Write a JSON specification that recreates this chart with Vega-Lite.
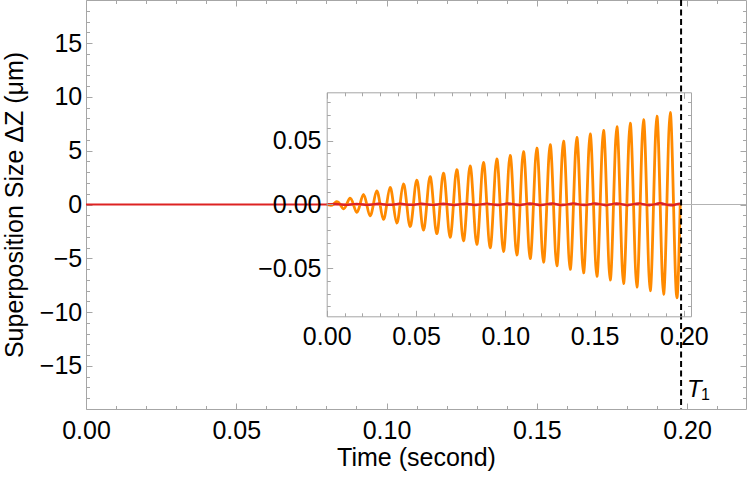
{
  "$schema": "https://vega.github.io/schema/vega-lite/v6.json",
  "width": 660,
  "height": 409,
  "autosize": {"type": "none"},
  "padding": {"left": 86, "top": 0, "right": 1, "bottom": 70},
  "background": "white",
  "config": {
    "view": {"stroke": null},
    "axis": {
      "domainColor": "#a6a6a6", "tickColor": "#a6a6a6", "domainWidth": 1, "tickWidth": 1,
      "labelFont": "Liberation Sans", "labelFontSize": 25, "labelColor": "black",
      "titleFont": "Liberation Sans", "titleFontSize": 25, "titleFontWeight": "normal", "titleColor": "black",
      "grid": false, "labelFlush": false, "labelOverlap": false, "labelBound": false
    }
  },
  "datasets": {
    "marker": [{"t": 0.198, "name": "T", "sub": "1"}],
    "red": [
      {"t": 0, "v": 0}, {"t": 0.00467, "v": 0.00041}, {"t": 0.0077, "v": 0}, {"t": 0.01074, "v": -0.00043}, {"t": 0.01377, "v": 0},
      {"t": 0.0168, "v": 0.00044}, {"t": 0.01983, "v": 0}, {"t": 0.02287, "v": -0.00046}, {"t": 0.0259, "v": 0},
      {"t": 0.02893, "v": 0.00047}, {"t": 0.03196, "v": 0}, {"t": 0.035, "v": -0.00049}, {"t": 0.03803, "v": 0},
      {"t": 0.04106, "v": 0.0005}, {"t": 0.04409, "v": 0}, {"t": 0.04713, "v": -0.00052}, {"t": 0.05016, "v": 0},
      {"t": 0.05319, "v": 0.00053}, {"t": 0.05622, "v": 0}, {"t": 0.05926, "v": -0.00055}, {"t": 0.06229, "v": 0},
      {"t": 0.06532, "v": 0.00056}, {"t": 0.06835, "v": 0}, {"t": 0.07139, "v": -0.00058}, {"t": 0.07442, "v": 0},
      {"t": 0.07745, "v": 0.00059}, {"t": 0.08048, "v": 0}, {"t": 0.08352, "v": -0.00061}, {"t": 0.08655, "v": 0},
      {"t": 0.08958, "v": 0.00062}, {"t": 0.09261, "v": 0}, {"t": 0.09565, "v": -0.00064}, {"t": 0.09868, "v": 0},
      {"t": 0.10171, "v": 0.00065}, {"t": 0.10474, "v": 0}, {"t": 0.10778, "v": -0.00067}, {"t": 0.11081, "v": 0},
      {"t": 0.11384, "v": 0.00068}, {"t": 0.11687, "v": 0}, {"t": 0.11991, "v": -0.0007}, {"t": 0.12294, "v": 0},
      {"t": 0.12597, "v": 0.00071}, {"t": 0.129, "v": 0}, {"t": 0.13204, "v": -0.00073}, {"t": 0.13507, "v": 0},
      {"t": 0.1381, "v": 0.00075}, {"t": 0.14113, "v": 0}, {"t": 0.14417, "v": -0.00076}, {"t": 0.1472, "v": 0},
      {"t": 0.15023, "v": 0.00078}, {"t": 0.15326, "v": 0}, {"t": 0.1563, "v": -0.00079}, {"t": 0.15933, "v": 0},
      {"t": 0.16236, "v": 0.00081}, {"t": 0.16539, "v": 0}, {"t": 0.16843, "v": -0.00082}, {"t": 0.17146, "v": 0},
      {"t": 0.17449, "v": 0.00084}, {"t": 0.17752, "v": 0}, {"t": 0.18056, "v": -0.00085}, {"t": 0.18359, "v": 0},
      {"t": 0.18662, "v": 0.00087}, {"t": 0.18965, "v": 0}, {"t": 0.19269, "v": -0.00088}, {"t": 0.19572, "v": 0},
      {"t": 0.198, "v": 0.0006}
    ],
    "orange": [
      {"t": 0, "v": 0}, {"t": 0.00187, "v": -0.0007}, {"t": 0.00374, "v": 0}, {"t": 0.0056, "v": 0.0021},
      {"t": 0.00747, "v": 0}, {"t": 0.00934, "v": -0.00349}, {"t": 0.01121, "v": 0}, {"t": 0.01307, "v": 0.00489},
      {"t": 0.01494, "v": 0}, {"t": 0.01681, "v": -0.00629}, {"t": 0.01868, "v": 0}, {"t": 0.02054, "v": 0.00768},
      {"t": 0.02241, "v": 0}, {"t": 0.02428, "v": -0.00908}, {"t": 0.02615, "v": 0}, {"t": 0.02801, "v": 0.01048},
      {"t": 0.02988, "v": 0}, {"t": 0.03175, "v": -0.01187}, {"t": 0.03362, "v": 0}, {"t": 0.03548, "v": 0.01327},
      {"t": 0.03735, "v": 0}, {"t": 0.03922, "v": -0.01467}, {"t": 0.04109, "v": 0}, {"t": 0.04295, "v": 0.01606},
      {"t": 0.04482, "v": 0}, {"t": 0.04669, "v": -0.01746}, {"t": 0.04856, "v": 0}, {"t": 0.05042, "v": 0.01886},
      {"t": 0.05229, "v": 0}, {"t": 0.05416, "v": -0.02026}, {"t": 0.05603, "v": 0}, {"t": 0.05789, "v": 0.02165},
      {"t": 0.05976, "v": 0}, {"t": 0.06163, "v": -0.02305}, {"t": 0.0635, "v": 0}, {"t": 0.06536, "v": 0.02445},
      {"t": 0.06723, "v": 0}, {"t": 0.0691, "v": -0.02584}, {"t": 0.07097, "v": 0}, {"t": 0.07283, "v": 0.02724},
      {"t": 0.0747, "v": 0}, {"t": 0.07657, "v": -0.02864}, {"t": 0.07844, "v": 0}, {"t": 0.0803, "v": 0.03003},
      {"t": 0.08217, "v": 0}, {"t": 0.08404, "v": -0.03143}, {"t": 0.08591, "v": 0}, {"t": 0.08777, "v": 0.03283},
      {"t": 0.08964, "v": 0}, {"t": 0.09151, "v": -0.03422}, {"t": 0.09338, "v": 0}, {"t": 0.09524, "v": 0.03562},
      {"t": 0.09711, "v": 0}, {"t": 0.09898, "v": -0.03702}, {"t": 0.10085, "v": 0}, {"t": 0.10271, "v": 0.03841},
      {"t": 0.10458, "v": 0}, {"t": 0.10645, "v": -0.03981}, {"t": 0.10832, "v": 0}, {"t": 0.11018, "v": 0.04121},
      {"t": 0.11205, "v": 0}, {"t": 0.11392, "v": -0.04261}, {"t": 0.11579, "v": 0}, {"t": 0.11765, "v": 0.044},
      {"t": 0.11952, "v": 0}, {"t": 0.12139, "v": -0.0454}, {"t": 0.12326, "v": 0}, {"t": 0.12512, "v": 0.0468},
      {"t": 0.12699, "v": 0}, {"t": 0.12886, "v": -0.04819}, {"t": 0.13073, "v": 0}, {"t": 0.13259, "v": 0.04959},
      {"t": 0.13446, "v": 0}, {"t": 0.13633, "v": -0.05099}, {"t": 0.1382, "v": 0}, {"t": 0.14006, "v": 0.05238},
      {"t": 0.14193, "v": 0}, {"t": 0.1438, "v": -0.05378}, {"t": 0.14567, "v": 0}, {"t": 0.14753, "v": 0.05518},
      {"t": 0.1494, "v": 0}, {"t": 0.15127, "v": -0.05657}, {"t": 0.15314, "v": 0}, {"t": 0.155, "v": 0.05797},
      {"t": 0.15687, "v": 0}, {"t": 0.15874, "v": -0.05937}, {"t": 0.16061, "v": 0}, {"t": 0.16247, "v": 0.06077},
      {"t": 0.16434, "v": 0}, {"t": 0.16621, "v": -0.06216}, {"t": 0.16808, "v": 0}, {"t": 0.16994, "v": 0.06356},
      {"t": 0.17181, "v": 0}, {"t": 0.17368, "v": -0.06496}, {"t": 0.17555, "v": 0}, {"t": 0.17741, "v": 0.06635},
      {"t": 0.17928, "v": 0}, {"t": 0.18115, "v": -0.06775}, {"t": 0.18302, "v": 0}, {"t": 0.18488, "v": 0.06915},
      {"t": 0.18675, "v": 0}, {"t": 0.18862, "v": -0.07054}, {"t": 0.19049, "v": 0}, {"t": 0.19235, "v": 0.07194},
      {"t": 0.19422, "v": 0}, {"t": 0.19609, "v": -0.07334}, {"t": 0.19796, "v": 0}
    ]
  },
  "layer": [
    {
      "layer": [
        {
          "data": {"name": "marker"},
          "mark": {"type": "rule", "color": "#b3b3b3", "strokeWidth": 1},
          "encoding": {"y": {"datum": 0, "type": "quantitative", "scale": {"domain": [-19, 19], "nice": false, "zero": false}, "axis": null}}
        },
        {
          "data": {"name": "red"},
          "mark": {"type": "line", "color": "#dd2222", "strokeWidth": 2.2, "interpolate": "natural"},
          "encoding": {
            "x": {"field": "t", "type": "quantitative", "scale": {"domain": [0, 0.2196], "nice": false, "zero": false}, "axis": null},
            "y": {"field": "v", "type": "quantitative", "scale": {"domain": [-19, 19], "nice": false, "zero": false}, "axis": null}
          }
        },
        {
          "data": {"name": "marker"},
          "mark": {"type": "point", "opacity": 0},
          "encoding": {
            "x": {"field": "t", "type": "quantitative", "scale": {"domain": [0, 0.2196], "nice": false, "zero": false},
                  "axis": {"orient": "bottom", "values": [0, 0.05, 0.1, 0.15, 0.2], "format": ".2f", "tickSize": -6, "labelPadding": 15.5,
                           "title": "Time (second)", "titleY": 56, "titleBaseline": "alphabetic"}},
            "y": {"datum": 0, "type": "quantitative", "scale": {"domain": [-19, 19], "nice": false, "zero": false},
                  "axis": {"orient": "left", "values": [-15, -10, -5, 0, 5, 10, 15], "format": "d", "tickSize": -6, "labelPadding": 10.3,
                           "title": "Superposition Size ΔZ (μm)", "titleX": -63.5, "titleY": 204.5, "titleAngle": -90, "titleBaseline": "alphabetic", "titleAlign": "center"}}
          }
        },
        {
          "data": {"name": "marker"},
          "mark": {"type": "point", "opacity": 0},
          "encoding": {
            "x": {"field": "t", "type": "quantitative", "scale": {"domain": [0, 0.2196], "nice": false, "zero": false},
                  "axis": {"orient": "bottom", "values": [0.01, 0.02, 0.03, 0.04, 0.06, 0.07, 0.08, 0.09, 0.11, 0.12, 0.13, 0.14, 0.16, 0.17, 0.18, 0.19, 0.21],
                           "tickSize": -3.5, "labels": false, "domain": false, "title": null}},
            "y": {"datum": 0, "type": "quantitative", "scale": {"domain": [-19, 19], "nice": false, "zero": false},
                  "axis": {"orient": "left", "values": [-18, -17, -16, -14, -13, -12, -11, -9, -8, -7, -6, -4, -3, -2, -1, 1, 2, 3, 4, 6, 7, 8, 9, 11, 12, 13, 14, 16, 17, 18],
                           "tickSize": -3.5, "labels": false, "domain": false, "title": null}}
          }
        },
        {
          "data": {"name": "marker"},
          "mark": {"type": "point", "opacity": 0},
          "encoding": {
            "x": {"field": "t", "type": "quantitative", "scale": {"domain": [0, 0.2196], "nice": false, "zero": false},
                  "axis": {"orient": "top", "values": [0, 0.05, 0.1, 0.15, 0.2], "tickSize": -6, "labels": false, "title": null}},
            "y": {"datum": 0, "type": "quantitative", "scale": {"domain": [-19, 19], "nice": false, "zero": false},
                  "axis": {"orient": "right", "values": [-15, -10, -5, 0, 5, 10, 15], "tickSize": -6, "labels": false, "title": null}}
          }
        },
        {
          "data": {"name": "marker"},
          "mark": {"type": "point", "opacity": 0},
          "encoding": {
            "x": {"field": "t", "type": "quantitative", "scale": {"domain": [0, 0.2196], "nice": false, "zero": false},
                  "axis": {"orient": "top", "values": [0.01, 0.02, 0.03, 0.04, 0.06, 0.07, 0.08, 0.09, 0.11, 0.12, 0.13, 0.14, 0.16, 0.17, 0.18, 0.19, 0.21],
                           "tickSize": -3.5, "labels": false, "domain": false, "title": null}},
            "y": {"datum": 0, "type": "quantitative", "scale": {"domain": [-19, 19], "nice": false, "zero": false},
                  "axis": {"orient": "right", "values": [-18, -17, -16, -14, -13, -12, -11, -9, -8, -7, -6, -4, -3, -2, -1, 1, 2, 3, 4, 6, 7, 8, 9, 11, 12, 13, 14, 16, 17, 18],
                           "tickSize": -3.5, "labels": false, "domain": false, "title": null}}
          }
        }
      ],
      "resolve": {"axis": {"x": "independent", "y": "independent"}}
    },
    {
      "layer": [
        {
          "data": {"name": "orange"},
          "mark": {"type": "line", "color": "#ff8a00", "strokeWidth": 2.8, "interpolate": "natural"},
          "encoding": {
            "x": {"field": "t", "type": "quantitative", "scale": {"domain": [0, 0.204], "range": [240.7, 605], "nice": false, "zero": false}, "axis": null},
            "y": {"field": "v", "type": "quantitative", "scale": {"domain": [-0.0878, 0.0878], "range": [316.3, 92.3], "nice": false, "zero": false}, "axis": null}
          }
        },
        {
          "data": {"name": "red"},
          "mark": {"type": "line", "color": "#dd2222", "strokeWidth": 2.2, "interpolate": "natural"},
          "encoding": {
            "x": {"field": "t", "type": "quantitative", "scale": {"domain": [0, 0.204], "range": [240.7, 605], "nice": false, "zero": false}, "axis": null},
            "y": {"field": "v", "type": "quantitative", "scale": {"domain": [-0.0878, 0.0878], "range": [316.3, 92.3], "nice": false, "zero": false}, "axis": null}
          }
        },
        {
          "data": {"name": "marker"},
          "mark": {"type": "point", "opacity": 0},
          "encoding": {
            "x": {"field": "t", "type": "quantitative", "scale": {"domain": [0, 0.204], "range": [240.7, 605], "nice": false, "zero": false},
                  "axis": {"orient": "bottom", "offset": -92.7, "values": [0, 0.05, 0.1, 0.15, 0.2], "format": ".2f", "tickSize": -6, "labelPadding": 14.4, "title": null, "zindex": 1}},
            "y": {"datum": 0, "type": "quantitative", "scale": {"domain": [-0.0878, 0.0878], "range": [316.3, 92.3], "nice": false, "zero": false},
                  "axis": {"orient": "left", "offset": -240.7, "values": [-0.05, 0, 0.05], "format": ".2f", "tickSize": -6, "labelPadding": 11.7, "title": null, "zindex": 1}}
          }
        },
        {
          "data": {"name": "marker"},
          "mark": {"type": "point", "opacity": 0},
          "encoding": {
            "x": {"field": "t", "type": "quantitative", "scale": {"domain": [0, 0.204], "range": [240.7, 605], "nice": false, "zero": false},
                  "axis": {"orient": "bottom", "offset": -92.7, "values": [0.01, 0.02, 0.03, 0.04, 0.06, 0.07, 0.08, 0.09, 0.11, 0.12, 0.13, 0.14, 0.16, 0.17, 0.18, 0.19],
                           "tickSize": -3.5, "labels": false, "domain": false, "title": null}},
            "y": {"datum": 0, "type": "quantitative", "scale": {"domain": [-0.0878, 0.0878], "range": [316.3, 92.3], "nice": false, "zero": false},
                  "axis": {"orient": "left", "offset": -240.7, "values": [-0.08, -0.07, -0.06, -0.04, -0.03, -0.02, -0.01, 0.01, 0.02, 0.03, 0.04, 0.06, 0.07, 0.08],
                           "tickSize": -3.5, "labels": false, "domain": false, "title": null}}
          }
        },
        {
          "data": {"name": "marker"},
          "mark": {"type": "point", "opacity": 0},
          "encoding": {
            "x": {"field": "t", "type": "quantitative", "scale": {"domain": [0, 0.204], "range": [240.7, 605], "nice": false, "zero": false},
                  "axis": {"orient": "top", "offset": -92.3, "values": [0, 0.05, 0.1, 0.15, 0.2], "tickSize": -6, "labels": false, "title": null}},
            "y": {"datum": 0, "type": "quantitative", "scale": {"domain": [-0.0878, 0.0878], "range": [316.3, 92.3], "nice": false, "zero": false},
                  "axis": {"orient": "right", "offset": -55, "values": [-0.05, 0, 0.05], "tickSize": -6, "labels": false, "title": null}}
          }
        },
        {
          "data": {"name": "marker"},
          "mark": {"type": "point", "opacity": 0},
          "encoding": {
            "x": {"field": "t", "type": "quantitative", "scale": {"domain": [0, 0.204], "range": [240.7, 605], "nice": false, "zero": false},
                  "axis": {"orient": "top", "offset": -92.3, "values": [0.01, 0.02, 0.03, 0.04, 0.06, 0.07, 0.08, 0.09, 0.11, 0.12, 0.13, 0.14, 0.16, 0.17, 0.18, 0.19],
                           "tickSize": -3.5, "labels": false, "domain": false, "title": null}},
            "y": {"datum": 0, "type": "quantitative", "scale": {"domain": [-0.0878, 0.0878], "range": [316.3, 92.3], "nice": false, "zero": false},
                  "axis": {"orient": "right", "offset": -55, "values": [-0.08, -0.07, -0.06, -0.04, -0.03, -0.02, -0.01, 0.01, 0.02, 0.03, 0.04, 0.06, 0.07, 0.08],
                           "tickSize": -3.5, "labels": false, "domain": false, "title": null}}
          }
        }
      ],
      "resolve": {"axis": {"x": "independent", "y": "independent"}}
    },
    {
      "data": {"name": "marker"},
      "layer": [
        {
          "mark": {"type": "rule", "color": "black", "strokeWidth": 2, "strokeDash": [6, 3.5]},
          "encoding": {"x": {"field": "t", "type": "quantitative", "scale": {"domain": [0, 0.2196], "nice": false, "zero": false}, "axis": null}}
        },
        {
          "mark": {"type": "text", "font": "Liberation Sans", "fontSize": 24, "fontStyle": "italic", "align": "left", "baseline": "alphabetic", "dx": 6, "color": "black"},
          "encoding": {
            "x": {"field": "t", "type": "quantitative", "scale": {"domain": [0, 0.2196], "nice": false, "zero": false}, "axis": null},
            "y": {"datum": -17.86, "type": "quantitative", "scale": {"domain": [-19, 19], "nice": false, "zero": false}, "axis": null},
            "text": {"field": "name"}
          }
        },
        {
          "mark": {"type": "text", "font": "Liberation Sans", "fontSize": 16, "align": "left", "baseline": "alphabetic", "dx": 20, "color": "black"},
          "encoding": {
            "x": {"field": "t", "type": "quantitative", "scale": {"domain": [0, 0.2196], "nice": false, "zero": false}, "axis": null},
            "y": {"datum": -18.16, "type": "quantitative", "scale": {"domain": [-19, 19], "nice": false, "zero": false}, "axis": null},
            "text": {"field": "sub"}
          }
        }
      ]
    }
  ],
  "resolve": {"scale": {"x": "independent", "y": "independent"}, "axis": {"x": "independent", "y": "independent"}}
}
